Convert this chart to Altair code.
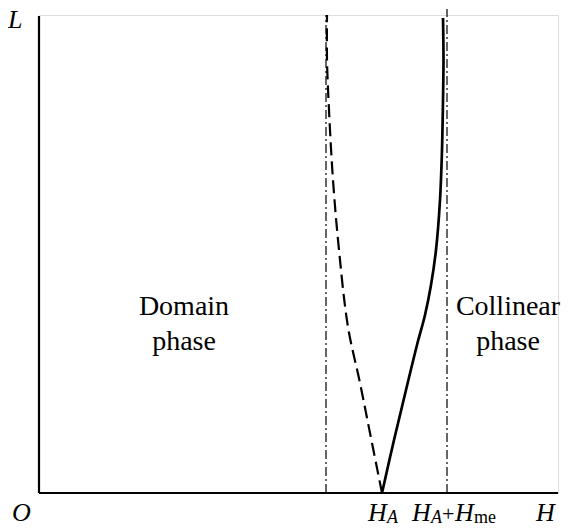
import altair as alt
import pandas as pd

# Coordinates in plot units (H to the right, L upward)
dash_h = [343, 331, 321, 309, 300, 294, 290, 288, 288]
dash_l = [0, 60, 110, 166, 243, 313, 383, 433, 478]
solid_h = [343, 355, 367, 378, 386, 392, 397, 401, 403, 404, 404.5, 404]
solid_l = [0, 53, 103, 148, 178, 208, 243, 293, 343, 393, 433, 475]
vlines_h = [287, 408]

region_text = ["Domain\nphase", "Collinear\nphase"]
region_h = [145, 469]
region_l = [186, 186]

FONT = "Liberation Serif"
W, H = 519, 478
xs = alt.Scale(domain=[0, W], nice=False, zero=False)
ys = alt.Scale(domain=[0, H], nice=False, zero=False)

def X(f="x"):
    return alt.X(f"{f}:Q", scale=xs, axis=None)

def Y(f="y"):
    return alt.Y(f"{f}:Q", scale=ys, axis=None)

axes_df = pd.DataFrame({"x": [0, 0], "y": [0, 0], "x2": [W, 0], "y2": [0, H - 1]})
axes = alt.Chart(axes_df).mark_rule(color="black", strokeWidth=2.2).encode(
    x=X(), y=Y(), x2="x2:Q", y2="y2:Q")

vdf = pd.DataFrame({"x": vlines_h, "y": [0, 0], "y2": [H, H + 6]})
vrules = alt.Chart(vdf).mark_rule(color="black", strokeWidth=1.2, strokeDash=[9, 3, 2, 3]).encode(
    x=X(), y=Y(), y2="y2:Q")

ddf = pd.DataFrame({"x": dash_h, "y": dash_l, "o": range(len(dash_h))})
dashed = alt.Chart(ddf).mark_line(color="black", strokeWidth=2.2, strokeDash=[13, 6],
                                  interpolate="catmull-rom").encode(x=X(), y=Y(), order="o:Q")

sdf = pd.DataFrame({"x": solid_h, "y": solid_l, "o": range(len(solid_h))})
solid = alt.Chart(sdf).mark_line(color="black", strokeWidth=2.7,
                                 interpolate="catmull-rom").encode(x=X(), y=Y(), order="o:Q")

rdf = pd.DataFrame({"x": region_h, "y": region_l, "t": region_text})
regions = alt.Chart(rdf).mark_text(font=FONT, fontSize=28, lineBreak="\n", lineHeight=35,
                                   align="center", baseline="middle", color="black").encode(
    x=X(), y=Y(), text="t:N")

# Axis labels
lab_text = ["L", "O", "H", "A", "H", "A", "+", "H", "me", "H"]
lab_x = [-31, -27, 329, 348, 373, 392, 403, 416, 435, 497]
lab_y = [465, -28, -28, -30, -28, -30, -28, -28, -30, -28]
lab_size = [26, 26, 26, 18, 26, 18, 22, 26, 18, 26]
lab_style = ["italic", "italic", "italic", "italic", "italic", "italic", "normal", "italic", "normal", "italic"]

layers = []
for t, x, y, s, st in zip(lab_text, lab_x, lab_y, lab_size, lab_style):
    d = pd.DataFrame({"x": [x], "y": [y], "t": [t]})
    layers.append(alt.Chart(d).mark_text(font=FONT, fontSize=s, fontStyle=st, align="left",
                                         baseline="alphabetic", color="black").encode(
        x=X(), y=Y(), text="t:N"))

chart = alt.layer(axes, vrules, dashed, solid, regions, *layers).properties(
    width=W, height=H,
    padding={"left": 31, "top": 7, "right": 3, "bottom": 30},
    autosize=alt.AutoSizeParams(type="none"),
).configure_view(stroke=None).configure(background="white")

chart.save("out.html", embed_options={"renderer": "svg", "actions": False})
